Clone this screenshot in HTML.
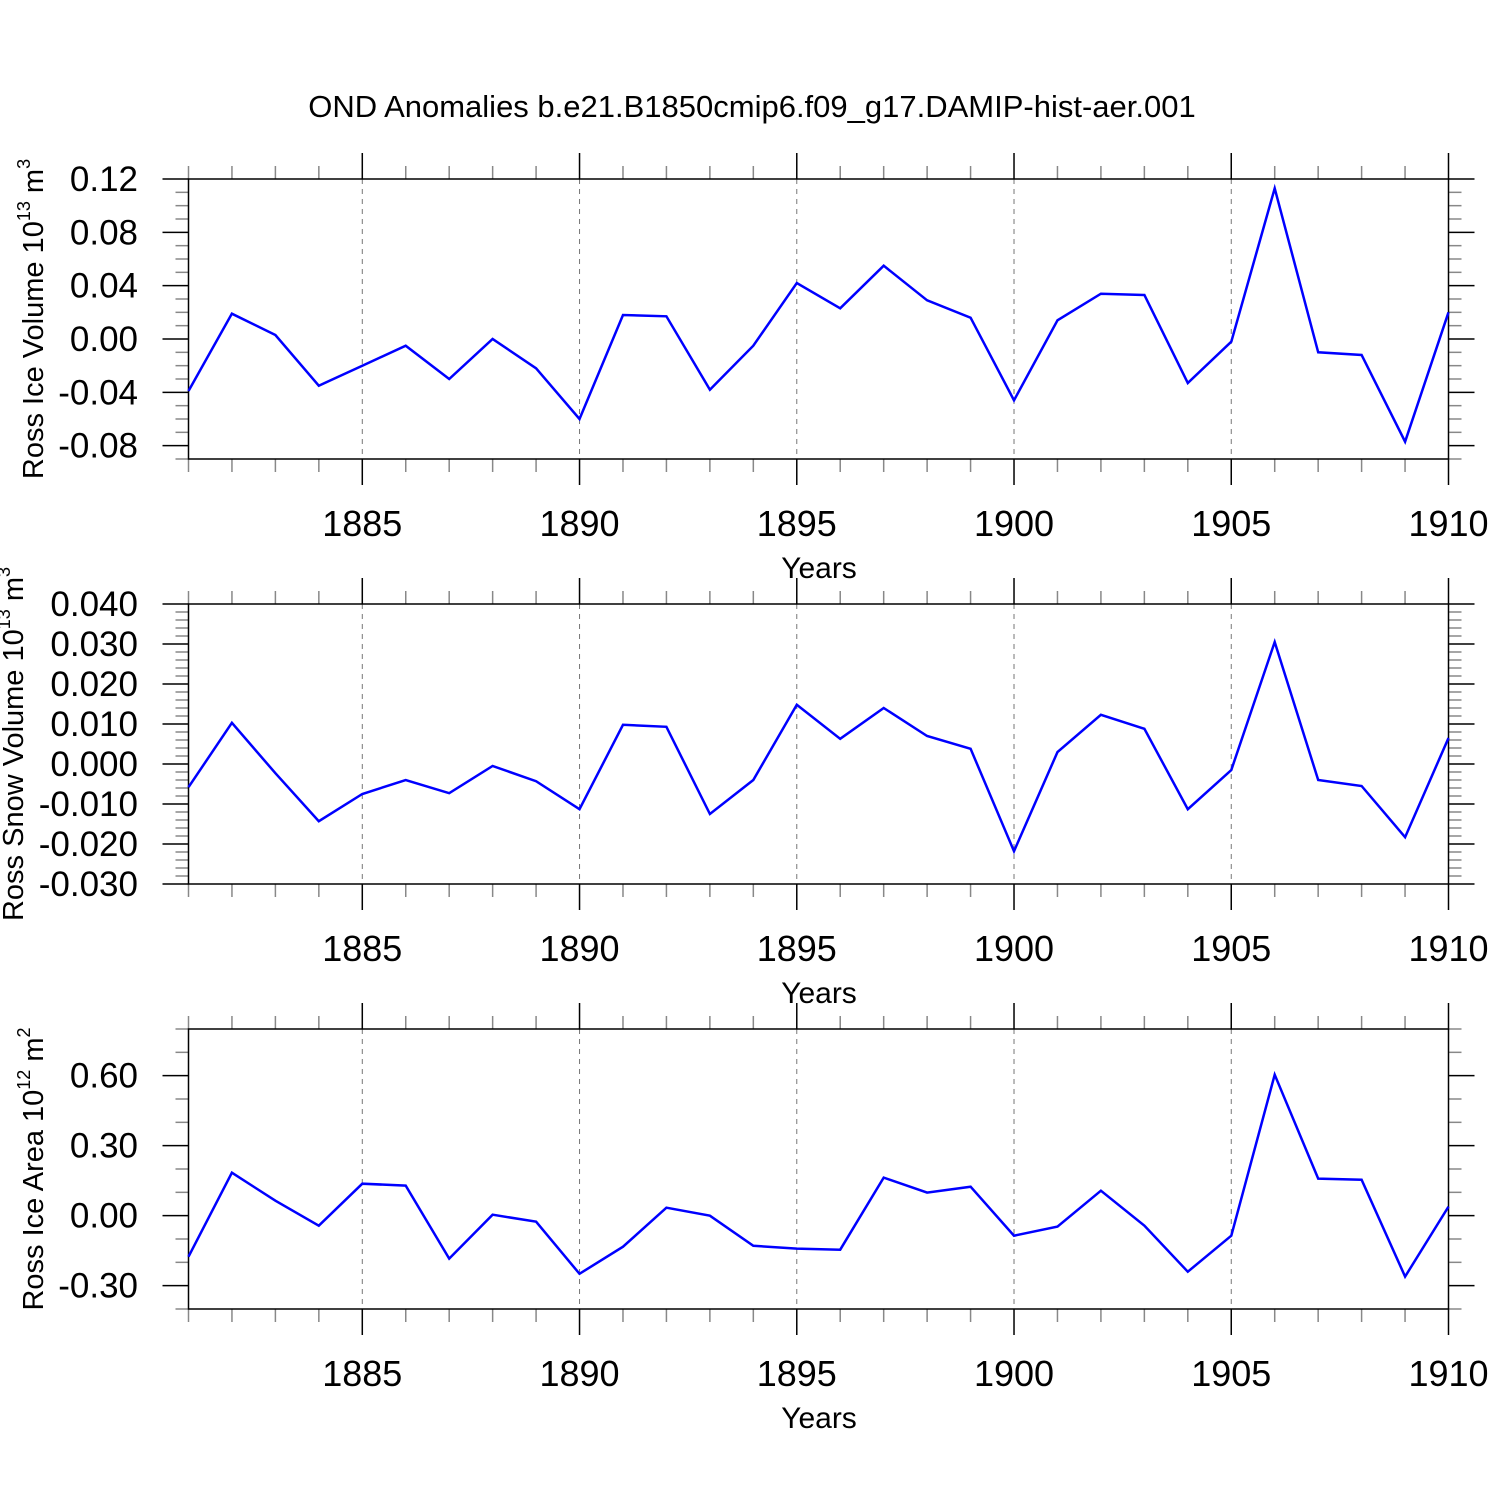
<!DOCTYPE html>
<html><head><meta charset="utf-8"><style>
html,body{margin:0;padding:0;background:#fff}
svg text{font-family:"Liberation Sans",Arial,sans-serif;fill:#000}
</style></head><body>
<svg id="chart" width="1500" height="1500" xmlns="http://www.w3.org/2000/svg">
<text x="752" y="117" font-size="31" text-anchor="middle">OND Anomalies b.e21.B1850cmip6.f09_g17.DAMIP-hist-aer.001</text>
</svg>
<script>
const years = [1881,1882,1883,1884,1885,1886,1887,1888,1889,1890,1891,1892,1893,1894,1895,1896,1897,1898,1899,1900,1901,1902,1903,1904,1905,1906,1907,1908,1909,1910];
const iceVolume = [-0.039,0.019,0.003,-0.035,-0.020,-0.005,-0.030,0.000,-0.022,-0.060,0.018,0.017,-0.038,-0.005,0.042,0.023,0.055,0.029,0.016,-0.046,0.014,0.034,0.033,-0.033,-0.002,0.113,-0.010,-0.012,-0.077,0.020];
const snowVolume = [-0.0058,0.0103,-0.0023,-0.0143,-0.0075,-0.0040,-0.0073,-0.0005,-0.0043,-0.0113,0.0098,0.0093,-0.0125,-0.0040,0.0148,0.0063,0.0140,0.0070,0.0038,-0.0218,0.0030,0.0123,0.0088,-0.0113,-0.0015,0.0305,-0.0040,-0.0055,-0.0183,0.0065];
const iceArea = [-0.176,0.184,0.064,-0.043,0.137,0.129,-0.184,0.004,-0.026,-0.249,-0.133,0.034,0.000,-0.129,-0.141,-0.146,0.163,0.099,0.124,-0.086,-0.047,0.107,-0.043,-0.240,-0.086,0.604,0.159,0.154,-0.261,0.039];
const xTickLabels = [1885,1890,1895,1900,1905,1910];
const iceVolTicks = ["0.12","0.08","0.04","0.00","-0.04","-0.08"];
const snowVolTicks = ["0.040","0.030","0.020","0.010","0.000","-0.010","-0.020","-0.030"];
const iceAreaTicks = ["0.60","0.30","0.00","-0.30"];

const svg = document.getElementById('chart');
const NS = 'http://www.w3.org/2000/svg';
function mk(tag, attrs, parent){const e=document.createElementNS(NS,tag);for(const k in attrs)e.setAttribute(k,attrs[k]);(parent||svg).appendChild(e);return e;}
const X0=188.5, X1=1448.5, xmin=1881, xmax=1910;
const xs = v => X0 + (v-xmin)/(xmax-xmin)*(X1-X0);

const panels = [
 {name:'ice-volume', top:179, bot:459, ymin:-0.09, ymax:0.12, minor:0.01, ticks:iceVolTicks, data:iceVolume, title:'Ross Ice Volume 10', sup:'13', unit:' m', usup:'3', tx:43},
 {name:'snow-volume', top:604, bot:884, ymin:-0.03, ymax:0.04, minor:0.002, ticks:snowVolTicks, data:snowVolume, title:'Ross Snow Volume 10', sup:'13', unit:' m', usup:'3', tx:23},
 {name:'ice-area', top:1029, bot:1309, ymin:-0.4, ymax:0.8, minor:0.1, ticks:iceAreaTicks, data:iceArea, title:'Ross Ice Area 10', sup:'12', unit:' m', usup:'2', tx:43}
];

panels.forEach(p=>{
  const g = mk('g',{});
  
  
  const ys = v => p.bot - (v-p.ymin)/(p.ymax-p.ymin)*(p.bot-p.top);
  xTickLabels.slice(0,5).forEach(y=>{
    const l=mk('line',{x1:xs(y),x2:xs(y),y1:p.top,y2:p.bot,stroke:'#777','stroke-width':1,'stroke-dasharray':'5,5'},g);
    
    
  });
  years.forEach(y=>{
    const major = (y%5===0);
    const len = major?26:13;
    mk('line',{x1:xs(y),x2:xs(y),y1:p.top-len,y2:p.top,stroke:major?'#000':'#888','stroke-width':1.5},g);
    mk('line',{x1:xs(y),x2:xs(y),y1:p.bot,y2:p.bot+len,stroke:major?'#000':'#888','stroke-width':1.5},g);
  });
  const n = Math.round((p.ymax-p.ymin)/p.minor);
  const labelVals = p.ticks.map(Number);
  for(let i=0;i<=n;i++){
    const v = p.ymin + i*p.minor;
    const major = labelVals.some(t=>Math.abs(t-v)<p.minor/10);
    const len = major?26:13;
    const y = ys(v);
    mk('line',{x1:X0-len,x2:X0,y1:y,y2:y,stroke:major?'#000':'#888','stroke-width':1.5},g);
    mk('line',{x1:X1,x2:X1+len,y1:y,y2:y,stroke:major?'#000':'#888','stroke-width':1.5},g);
  }
  p.ticks.forEach(t=>{
    const tl=mk('text',{x:138,y:ys(Number(t))+12,'font-size':35,'text-anchor':'end'},g);
    tl.textContent=t;
    
    
  });
  xTickLabels.forEach(t=>{
    const tl=mk('text',{x:xs(t),y:p.bot+77,'font-size':36,'text-anchor':'middle'},g);
    tl.textContent=t;
    
    
  });
  const fr=mk('rect',{x:X0,y:p.top,width:X1-X0,height:p.bot-p.top,fill:'none',stroke:'#000','stroke-width':1.5},g);
  
  
  const pts = years.map((y,i)=>xs(y).toFixed(1)+','+ys(p.data[i]).toFixed(1)).join(' ');
  const pl=mk('polyline',{points:pts,fill:'none',stroke:'#0000ff','stroke-width':2.5,'stroke-linejoin':'miter'},g);
  
  
  const xt=mk('text',{x:819,y:p.bot+119,'font-size':30,'text-anchor':'middle'},g);
  xt.textContent='Years';
  
  
  const cy=(p.top+p.bot)/2;
  const yt=mk('text',{x:0,y:0,'font-size':29,'text-anchor':'middle',transform:`translate(${p.tx},${cy}) rotate(-90)`},g);
  
  
  const a=document.createElementNS(NS,'tspan');a.textContent=p.title;yt.appendChild(a);
  const b=document.createElementNS(NS,'tspan');b.setAttribute('dy','-13');b.setAttribute('font-size','18');b.textContent=p.sup;yt.appendChild(b);
  const c=document.createElementNS(NS,'tspan');c.setAttribute('dy','13');c.textContent=p.unit;yt.appendChild(c);
  const d=document.createElementNS(NS,'tspan');d.setAttribute('dy','-13');d.setAttribute('font-size','18');d.textContent=p.usup;yt.appendChild(d);
});
</script>
</body></html>
